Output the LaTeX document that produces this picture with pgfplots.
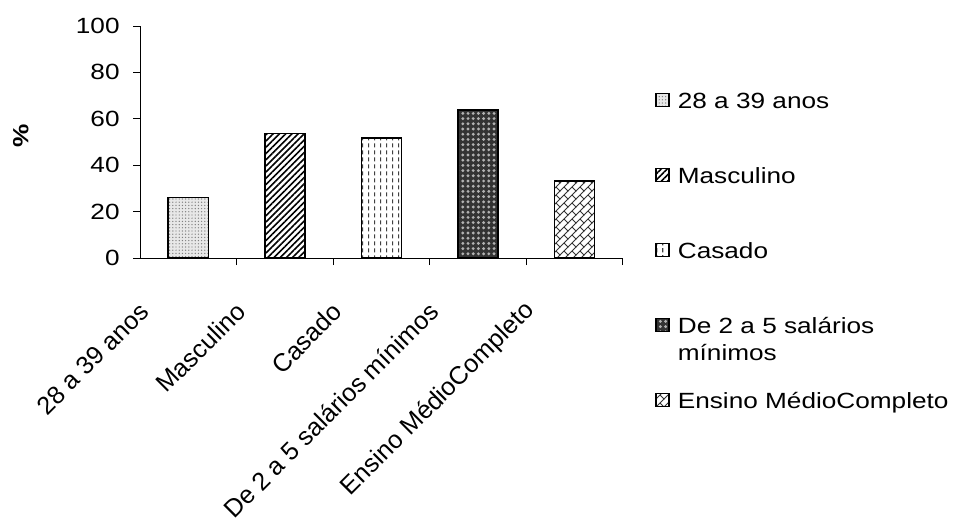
\documentclass[border=0pt]{standalone}
\usepackage{fontspec}
\setmainfont{Liberation Sans}[FakeStretch=1.19]
\newfontfamily\xlabfont{Liberation Sans}
\usepackage{pgfplots}
\pgfplotsset{compat=1.18}
\usetikzlibrary{patterns,patterns.meta}

\pgfdeclarepatternformonly{vdashes}{\pgfqpoint{0pt}{0pt}}{\pgfqpoint{3pt}{3.6pt}}{\pgfqpoint{3pt}{3.6pt}}{%
 \pgfpathrectangle{\pgfqpoint{1.2pt}{0.4pt}}{\pgfqpoint{0.6pt}{2.2pt}}\pgfusepath{fill}}

\pgfdeclarepatternformonly{diagbricks}{\pgfqpoint{-0.5pt}{-0.5pt}}{\pgfqpoint{4.5pt}{4.5pt}}{\pgfqpoint{4pt}{4pt}}{%
 \pgfsetlinewidth{0.45pt}%
 \pgfpathmoveto{\pgfqpoint{-0.2pt}{-0.2pt}}\pgfpathlineto{\pgfqpoint{4.2pt}{4.2pt}}%
 \pgfpathmoveto{\pgfqpoint{2pt}{2pt}}\pgfpathlineto{\pgfqpoint{4pt}{0pt}}%
 \pgfusepath{stroke}}

\begin{document}
\fontsize{11}{13.5}\selectfont
\begin{tikzpicture}
\begin{axis}[
 scale only axis, width=241.5pt, height=116pt,
 xmin=-0.5, xmax=4.5, ymin=0, ymax=100,
 axis x line*=bottom, axis y line*=left,
 ytick={0,20,...,100},
 xtick={0,...,4},
 xticklabels={28 a 39 anos, Masculino, Casado, De 2 a 5 salários mínimos, Ensino MédioCompleto},
 minor xtick={0.5,1.5,2.5,3.5,4.5},
 major x tick style={draw=none},
 tick align=outside, major tick length=3.5pt, minor tick length=3.5pt,
 tick style={black, line width=0.5pt},
 axis line style={line width=0.5pt, black},
 yticklabel style={/pgf/number format/assume math mode=true, inner sep=0pt, xshift=-6.5pt},
 xticklabel style={font=\xlabfont\fontsize{12.6}{15}\selectfont, inner sep=0pt, xshift=-22pt, yshift=-21pt, rotate=45, anchor=east},
 every axis y label/.style={at={(axis description cs:-0.247,0.526)}, anchor=center, rotate=90},
 ylabel={\textbf{\%}},
 ybar, bar width=20pt, bar shift=0pt,
 legend style={at={(axis description cs:1.066,0.72)}, anchor=north west, draw=none, fill=none,
   inner sep=0pt, row sep=26pt, column sep=4pt, nodes={inner sep=0pt, text height=8.5pt, text depth=3pt}},
 legend cell align=left,
 legend image code/.code={\draw[#1] (0pt,-1.75pt) rectangle (6.5pt,4.75pt);},
]
\coordinate (O) at (rel axis cs:0,0);
\addplot[draw=black, line width=0.8pt, fill=gray!18, postaction={pattern={Dots[distance=1.6pt, radius=0.35pt]}, pattern color=gray}] coordinates {(0,26.1)};
\addlegendentry{28 a 39 anos}
\addplot[draw=black, line width=0.8pt, fill=white, postaction={pattern={Lines[angle=45, distance=2.2pt, line width=0.8pt]}, pattern color=black}] coordinates {(1,53.6)};
\addlegendentry{Masculino}
\addplot[draw=black, line width=0.8pt, fill=white, postaction={pattern=vdashes, pattern color=black!75}] coordinates {(2,51.8)};
\addlegendentry{Casado}
\addplot[draw=black, line width=0.8pt, fill=black!80, postaction={pattern={Dots[distance=2.6pt, radius=0.8pt]}, pattern color=gray!60}] coordinates {(3,63.9)};
\addlegendentry{\begin{tabular}[t]{@{}l@{}}De 2 a 5 salários\\mínimos\end{tabular}}
\addplot[draw=black, line width=0.8pt, fill=white, postaction={pattern=diagbricks, pattern color=black!80}] coordinates {(4,33.2)};
\addlegendentry{Ensino MédioCompleto}
\end{axis}
\pgfresetboundingbox
\path[use as bounding box] (O) ++(-70pt,-130.5pt) rectangle ++(478pt,259.5pt);
\end{tikzpicture}
\end{document}
